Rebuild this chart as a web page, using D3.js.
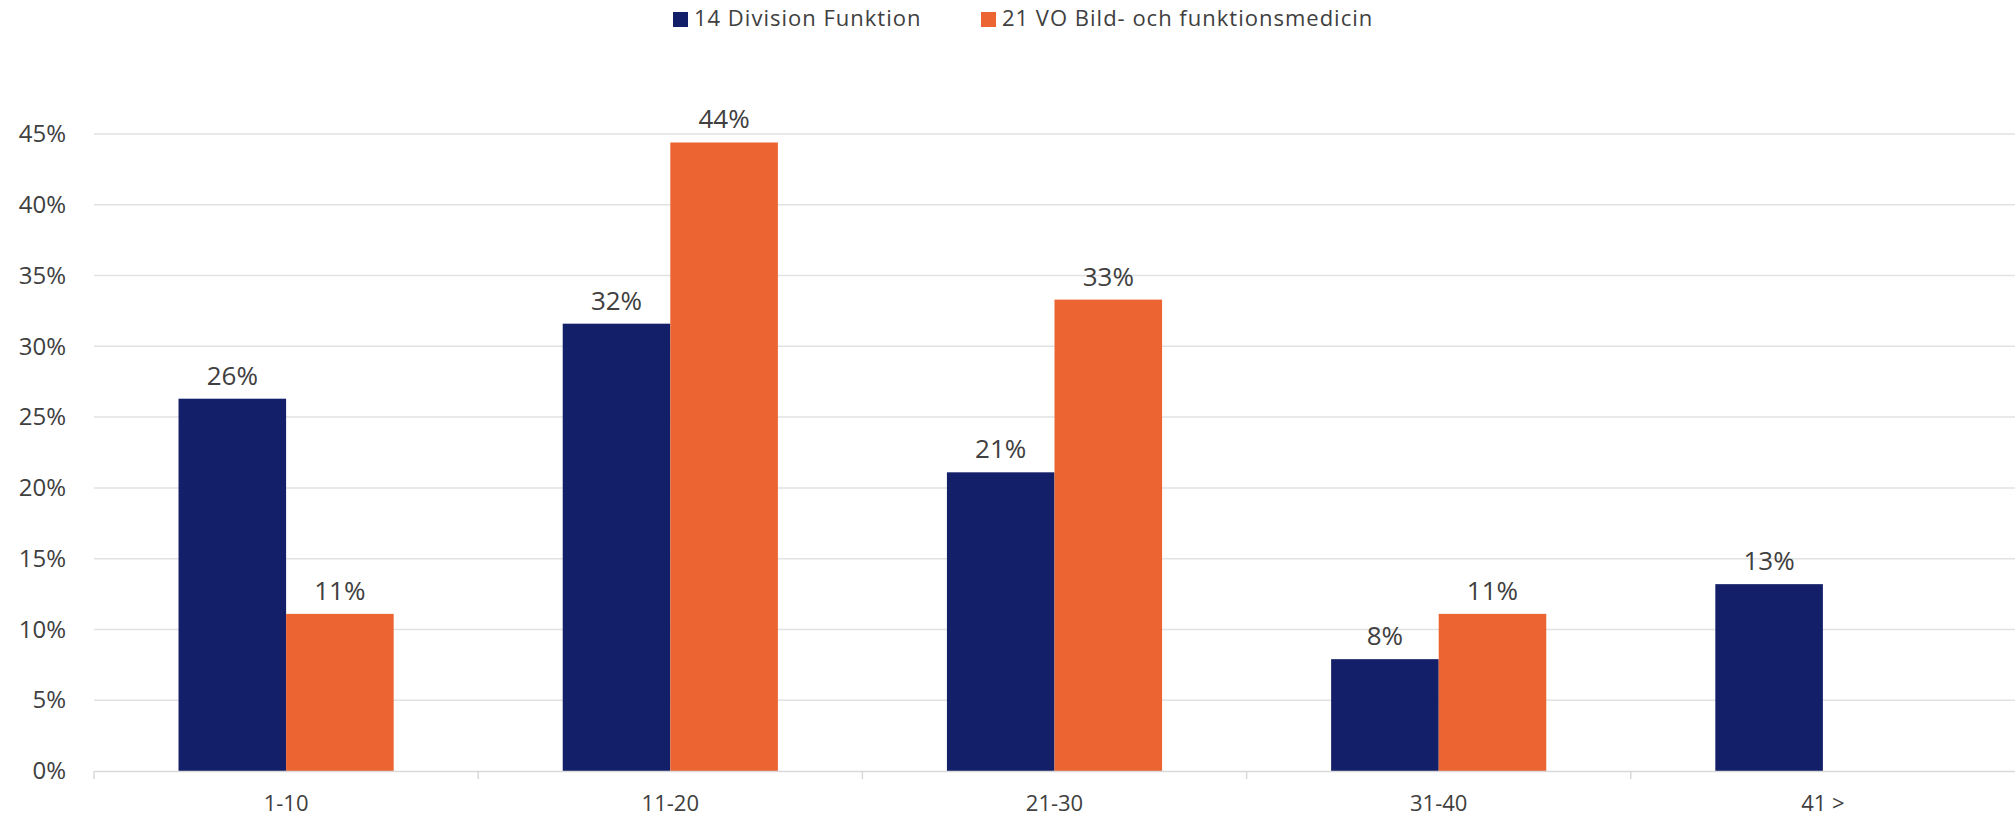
<!DOCTYPE html>
<html><head><meta charset="utf-8">
<script src="https://cdn.jsdelivr.net/npm/d3@7/dist/d3.min.js"></script>
<style>
html,body{margin:0;padding:0;background:#fff;}
svg text{font-family:"Open Sans",sans-serif;fill:#404040;}
</style></head>
<body><svg id="c" width="2015" height="816"></svg>
<script>
const categories = ["1-10","11-20","21-30","31-40","41 >"];
const seriesNames = ["14 Division Funktion","21 VO Bild- och funktionsmedicin"];
const seriesA = [26.3, 31.6, 21.1, 7.9, 13.2];
const seriesB = [11.1, 44.4, 33.3, 11.1, null];
const yTicks = [0,5,10,15,20,25,30,35,40,45];
const colors = ["#131F69","#EC6431"];

(function(){
const svg = d3.select("#c");
const pLeft = 94, pRight = 2015, pTop = 134, pBottom = 771;
const x0 = d3.scaleBand().domain(categories).range([pLeft,pRight]).paddingInner(0.44).paddingOuter(0.22);
const x1 = d3.scaleBand().domain([0,1]).range([0,x0.bandwidth()]);
const y = d3.scaleLinear().domain([0,45]).range([pBottom,pTop]);

// gridlines
svg.append("g").selectAll("line").data(yTicks.filter(d=>d>0)).join("line")
  .attr("x1",pLeft).attr("x2",pRight).attr("y1",d=>y(d)).attr("y2",d=>y(d))
  .attr("stroke","#e2e2e2").attr("stroke-width",1.5);

// y axis labels
const yAxis = d3.axisLeft(y).tickValues(yTicks).tickFormat(d=>d+"%").tickSize(0).tickPadding(0);
const gy = svg.append("g").attr("transform","translate(66,0)").call(yAxis);
gy.select(".domain").remove();
gy.selectAll("text").style("font-size","24px").attr("fill","#404040");

// bars
const data = categories.map((c,i)=>({c, vals:[seriesA[i],seriesB[i]]}));
const groups = svg.append("g").selectAll("g").data(data).join("g")
  .attr("transform",d=>`translate(${x0(d.c)},0)`);
groups.selectAll("rect").data(d=>d.vals.map((v,k)=>({v,k})).filter(e=>e.v!=null)).join("rect")
  .attr("x",e=>x1(e.k)).attr("width",x1.bandwidth())
  .attr("y",e=>y(e.v)).attr("height",e=>pBottom-y(e.v))
  .attr("fill",e=>colors[e.k]);
groups.selectAll("text").data(d=>d.vals.map((v,k)=>({v,k})).filter(e=>e.v!=null)).join("text")
  .attr("x",e=>x1(e.k)+x1.bandwidth()/2).attr("y",e=>y(e.v)-14)
  .attr("text-anchor","middle").style("font-size","26px")
  .text(e=>Math.round(e.v)+"%");

// x axis
const xAxis = d3.axisBottom(x0).tickSize(0).tickPadding(0);
const gx = svg.append("g").attr("transform",`translate(0,${pBottom})`).call(xAxis);
gx.select(".domain").attr("stroke","#d9d9d9").attr("stroke-width",1.5);
gx.selectAll("text").style("font-size","22px").attr("fill","#404040").attr("dy",null).attr("y",40);
const bounds = categories.map((c,i)=>pLeft + x0.step()*i);
svg.append("g").selectAll("line").data(bounds).join("line")
  .attr("x1",d=>d).attr("x2",d=>d).attr("y1",pBottom).attr("y2",pBottom+8)
  .attr("stroke","#d9d9d9").attr("stroke-width",1.5);

// legend
const legX = [673, 981];
const lg = svg.append("g").selectAll("g").data(seriesNames).join("g")
  .attr("transform",(d,i)=>`translate(${legX[i]},0)`);
lg.append("rect").attr("x",0).attr("y",12).attr("width",15).attr("height",15).attr("fill",(d,i)=>colors[i]);
lg.append("text").attr("x",21).attr("y",26).style("font-size","22px").style("letter-spacing","1px").text(d=>d);
})();
</script></body></html>
